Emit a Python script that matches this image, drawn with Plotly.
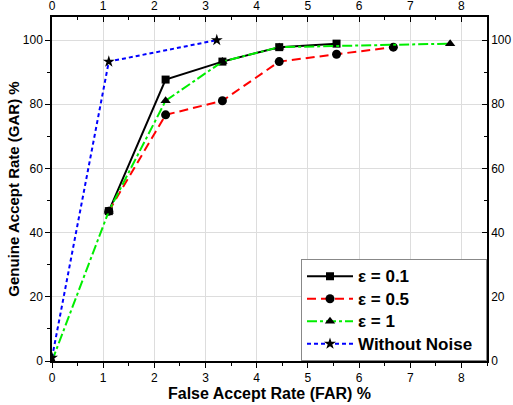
import plotly.graph_objects as go

x_eps01 = [1.11, 2.22, 3.33, 4.44, 5.56]
y_eps01 = [46.7, 87.7, 93.3, 97.8, 98.9]
x_eps05 = [1.11, 2.22, 3.33, 4.44, 5.56, 6.67]
y_eps05 = [46.7, 76.7, 81.1, 93.3, 95.6, 97.8]
x_eps1 = [0, 1.11, 2.22, 3.33, 4.44, 7.78]
y_eps1 = [0, 46.7, 81.1, 93.3, 97.8, 98.9]
x_nonoise = [0, 1.11, 3.22]
y_nonoise = [1.0, 93.3, 100.0]
series_names = ["ε = 0.1", "ε = 0.5", "ε = 1", "Without Noise"]

FONT = "Liberation Sans, Arial, sans-serif"


def lg(name):
    return '<span style="font-size:17px"><b>' + name + '</b></span>\u00a0\u00a0'


fig = go.Figure()
fig.add_trace(go.Scatter(x=x_eps01, y=y_eps01, mode="lines+markers", name=lg(series_names[0]),
                         line=dict(color="black", width=2),
                         marker=dict(symbol="square", size=8, color="black")))
fig.add_trace(go.Scatter(x=x_eps05, y=y_eps05, mode="lines+markers", name=lg(series_names[1]),
                         line=dict(color="#ff0000", width=2, dash="9px,5px"),
                         marker=dict(symbol="circle", size=9, color="black")))
fig.add_trace(go.Scatter(x=x_eps1, y=y_eps1, mode="lines+markers", name=lg(series_names[2]),
                         line=dict(color="#00ee00", width=2, dash="10px,3px,3px,3px"),
                         marker=dict(symbol="triangle-up", size=9, color="black")))
fig.add_trace(go.Scatter(x=x_nonoise, y=y_nonoise, mode="lines+markers", name=lg(series_names[3]),
                         line=dict(color="#0000ff", width=2, dash="4px,3px"),
                         marker=dict(symbol="star", size=9, color="black")))
# invisible trace to activate mirror axes
fig.add_trace(go.Scatter(x=[0], y=[0], xaxis="x2", yaxis="y2", mode="markers",
                         marker=dict(opacity=0), showlegend=False, hoverinfo="skip"))

xr = [0, 8.5]
yr = [0, 107.2]
fig.update_layout(
    width=513, height=405,
    margin=dict(l=52, r=26, t=17, b=44),
    paper_bgcolor="white", plot_bgcolor="white",
    font=dict(family=FONT, size=12, color="black"),
    xaxis=dict(range=xr, dtick=1, tick0=0, showgrid=True, gridcolor="#dddddd", gridwidth=1,
               showline=True, linecolor="black", linewidth=1.5, ticks="outside", ticklen=5,
               tickcolor="black", zeroline=False, automargin=False,
               minor=dict(dtick=0.5, tick0=0, ticks="outside", ticklen=3, tickcolor="black", showgrid=False),
               title=dict(text="<b>False Accept Rate (FAR) %</b>", font=dict(size=16), standoff=0),
               tickfont=dict(size=12)),
    yaxis=dict(range=yr, dtick=20, tick0=0, showgrid=True, gridcolor="#dddddd", gridwidth=1,
               showline=True, linecolor="black", linewidth=1.5, ticks="outside", ticklen=5,
               tickcolor="black", zeroline=False, automargin=False,
               minor=dict(dtick=10, tick0=0, ticks="outside", ticklen=3, tickcolor="black", showgrid=False),
               title=dict(text="<b>Genuine Accept Rate (GAR) %</b>", font=dict(size=15), standoff=0),
               tickfont=dict(size=12)),
    xaxis2=dict(range=xr, dtick=1, tick0=0, overlaying="x", side="top", showgrid=False,
                showline=True, linecolor="black", linewidth=1.5, ticks="inside", ticklen=5,
                tickcolor="black", zeroline=False, automargin=False,
                minor=dict(dtick=0.5, tick0=0, ticks="inside", ticklen=3, tickcolor="black"),
                tickfont=dict(size=12)),
    yaxis2=dict(range=yr, dtick=20, tick0=0, overlaying="y", side="right", showgrid=False,
                showline=True, linecolor="black", linewidth=1.5, ticks="inside", ticklen=5,
                tickcolor="black", zeroline=False, automargin=False,
                minor=dict(dtick=10, tick0=0, ticks="inside", ticklen=3, tickcolor="black"),
                tickfont=dict(size=12)),
    legend=dict(x=1, y=0, xanchor="right", yanchor="bottom", bgcolor="white",
                bordercolor="#888888", borderwidth=1, font=dict(size=15, color="black"),
                tracegroupgap=0, itemwidth=46),
    showlegend=True,
)
fig.write_html("out.html")
